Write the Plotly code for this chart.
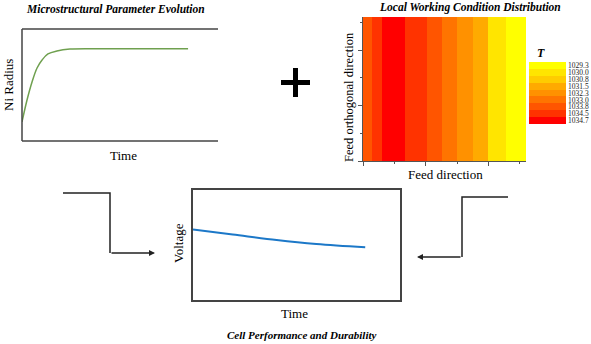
import numpy as np
import plotly.graph_objects as go

# Ni radius evolution (normalised)
ni_time = [0.0, 0.029, 0.058, 0.087, 0.116, 0.150, 0.202, 0.277, 0.451, 0.960]
ni_radius = [0.170, 0.366, 0.527, 0.652, 0.723, 0.777, 0.804, 0.821, 0.824, 0.824]

# voltage degradation (normalised)
v_time = [0.0, 0.192, 0.404, 0.596, 0.832]
voltage = [0.640, 0.595, 0.545, 0.509, 0.479]

# temperature field: column edges along feed direction and the T band of each column
feed_edges = [0.0, 0.057, 0.121, 0.268, 0.408, 0.503, 0.599, 0.701, 0.796, 0.911, 1.04]
col_temp = ["1033.8", "1034.5", "1034.7", "1034.5", "1033.8", "1033.0", "1032.3", "1031.5", "1030.0", "1029.3"]
t_levels = ["1029.3", "1030.0", "1030.8", "1031.5", "1032.3", "1033.0", "1033.8", "1034.5", "1034.7"]
t_colors = ["#FFFF00", "#FFE500", "#FFCC00", "#FFAA00", "#FF9100", "#FF7400", "#FF5500", "#FF3300", "#FF0000"]

serif = "Liberation Serif"
W, H = 591, 344


def px(x):
    return x / W


def py(y):
    return 1 - y / H


n = len(t_levels)
# index so that the first level sits at the top of the colour bar
z = [[n - 1 - t_levels.index(t) for t in col_temp]]
cscale = []
for k in range(n):
    c = t_colors[n - 1 - k]
    cscale.append([k / n, c])
    cscale.append([(k + 1) / n, c])

fig = go.Figure()

fig.add_trace(go.Scatter(
    x=ni_time, y=ni_radius, mode="lines", line=dict(color="#6FA04F", width=1.5, shape="spline"),
    xaxis="x", yaxis="y", showlegend=False, hoverinfo="skip"))

fig.add_trace(go.Heatmap(
    x=feed_edges, y=[0, 1.04], z=z, zmin=-0.5, zmax=n - 0.5,
    colorscale=cscale, xaxis="x2", yaxis="y2",
    colorbar=dict(
        x=px(529), xanchor="left", y=py(93), yanchor="middle", xpad=0, ypad=0,
        len=62 / H, lenmode="fraction", thickness=37, outlinewidth=0,
        tickvals=list(range(n)), ticktext=t_levels[::-1], ticks="",
        tickfont=dict(family=serif, size=7.5, color="#222")),
    hoverinfo="skip"))

fig.add_trace(go.Scatter(
    x=v_time, y=voltage, mode="lines", line=dict(color="#1C78C8", width=2, shape="spline"),
    xaxis="x3", yaxis="y3", showlegend=False, hoverinfo="skip"))

blank = dict(showgrid=False, zeroline=False, showticklabels=False, ticks="")
box = dict(showline=True, mirror=True, linecolor="#444", linewidth=1.5)

fig.update_layout(
    width=W, height=H, margin=dict(l=0, r=0, t=0, b=0, autoexpand=False),
    paper_bgcolor="white", plot_bgcolor="white",
    xaxis=dict(domain=[px(22), px(218)], range=[0, 1.133], **blank),
    yaxis=dict(domain=[py(141), py(29)], range=[0, 1], **blank),
    xaxis2=dict(domain=[px(363), px(526)], range=[0, 1.04], showgrid=False, zeroline=False,
                showticklabels=False, ticks="outside", ticklen=4, tickcolor="#555", dtick=0.4, tick0=0,
                minor=dict(ticks="outside", ticklen=2, dtick=0.2, tickcolor="#555"),
                showline=True, linecolor="#555", linewidth=1, anchor="y2"),
    yaxis2=dict(domain=[py(161), py(17)], range=[0, 1.04], showgrid=False, zeroline=False,
                showticklabels=False, ticks="outside", ticklen=4, tickcolor="#555", dtick=0.4, tick0=0,
                minor=dict(ticks="outside", ticklen=2, dtick=0.2, tickcolor="#555"),
                showline=True, linecolor="#555", linewidth=1, anchor="x2"),
    xaxis3=dict(domain=[px(193), px(400)], range=[0, 1], anchor="y3", **blank, **box),
    yaxis3=dict(domain=[py(300), py(190)], range=[0, 1], anchor="x3", **blank, **box),
)

# open box around the Ni radius panel (left, top, bottom)
line_style = dict(color="#444", width=1.5)
for x0, y0, x1, y1 in [(22, 29, 22, 141), (22, 29, 218, 29), (22, 141, 218, 141)]:
    fig.add_shape(type="line", xref="paper", yref="paper",
                  x0=px(x0), y0=py(y0), x1=px(x1), y1=py(y1), line=line_style)

# plus sign
plus = dict(color="black", width=5)
fig.add_shape(type="line", xref="paper", yref="paper", x0=px(281), y0=py(82.5), x1=px(310), y1=py(82.5), line=plus)
fig.add_shape(type="line", xref="paper", yref="paper", x0=px(295.5), y0=py(68), x1=px(295.5), y1=py(97), line=plus)

# connectors into the voltage panel
conn = dict(color="#222", width=1.5)
fig.add_shape(type="path", xref="paper", yref="paper",
              path=f"M {px(63)} {py(193)} L {px(110)} {py(193)} L {px(110)} {py(253)}", line=conn)
fig.add_shape(type="path", xref="paper", yref="paper",
              path=f"M {px(508)} {py(197)} L {px(462)} {py(197)} L {px(462)} {py(257)}", line=conn)
fig.add_annotation(x=px(155), y=py(253), xref="paper", yref="paper", ax=-45, ay=0,
                   text="", showarrow=True, arrowhead=2, arrowsize=0.8, arrowwidth=1.5, arrowcolor="#222")
fig.add_annotation(x=px(417), y=py(257), xref="paper", yref="paper", ax=45, ay=0,
                   text="", showarrow=True, arrowhead=2, arrowsize=0.8, arrowwidth=1.5, arrowcolor="#222")


def label(text, x, y, size=13, angle=0, bold_italic=False):
    if bold_italic:
        text = f"<b><i>{text}</i></b>"
    fig.add_annotation(x=px(x), y=py(y), xref="paper", yref="paper", text=text, showarrow=False,
                       textangle=angle, xanchor="center", yanchor="middle",
                       font=dict(family=serif, size=size, color="black"))


label("Microstructural Parameter Evolution", 116, 9, size=11.5, bold_italic=True)
label("Ni Radius", 8, 85, angle=-90)
label("Time", 123, 155)
label("Local Working Condition Distribution", 470, 7, size=11.5, bold_italic=True)
label("Feed orthogonal direction", 349, 97, size=12.5, angle=-90)
label("Feed direction", 445, 174)
label("T", 541, 53, size=12, bold_italic=True)
label("Voltage", 178, 243, angle=-90)
label("Time", 294, 313)
label("Cell Performance and Durability", 302, 335, size=11, bold_italic=True)

# the page body has a default 8px margin; drop it so the figure sits at the window corner
fig.write_html("out.html", config={"displayModeBar": False},
               post_script="document.body.style.margin='0';document.body.style.overflow='hidden';")
